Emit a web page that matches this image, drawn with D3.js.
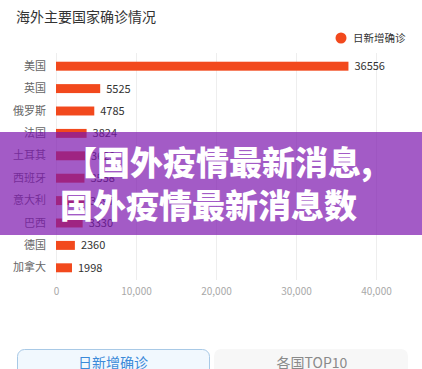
<!DOCTYPE html>
<html>
<head>
<meta charset="utf-8">
<script src="https://cdn.jsdelivr.net/npm/d3@7"></script>
<style>
  body { margin: 0; background: #fff; }
  svg { display: block; font-family: "Noto Sans CJK SC", "Noto Sans", sans-serif; }
</style>
</head>
<body>
<script>
// chart data
const countries = ["美国", "英国", "俄罗斯", "法国", "土耳其", "西班牙", "意大利", "巴西", "德国", "加拿大"];
const newCases = [36556, 5525, 4785, 3824, 3629, 3558, 3497, 3330, 2360, 1998];
const xTicks = [0, 10000, 20000, 30000, 40000];
const seriesName = "日新增确诊";
const chartTitle = "海外主要国家确诊情况";
const bannerLines = ["【国外疫情最新消息,", "国外疫情最新消息数"];
const tabs = ["日新增确诊", "各国TOP10"];

const width = 422, height = 369;
const margin = { top: 55, right: 46, bottom: 91, left: 56 };
const barColor = "#f2491d";

const svg = d3.select("body").append("svg")
    .attr("width", width)
    .attr("height", height);

// title
svg.append("text")
    .attr("x", 16).attr("y", 22)
    .attr("font-size", 14)
    .attr("fill", "#333")
    .text(chartTitle);

// legend
svg.append("circle")
    .attr("cx", 341).attr("cy", 38).attr("r", 5.5)
    .attr("fill", barColor);
svg.append("text")
    .attr("x", 353).attr("y", 42)
    .attr("font-size", 10.5)
    .attr("fill", "#333")
    .text(seriesName);

const x = d3.scaleLinear()
    .domain([0, 40000])
    .range([margin.left, 376]);

const y = d3.scaleBand()
    .domain(countries)
    .range([margin.top, height - margin.bottom + 1])
    .paddingInner(0.6)
    .paddingOuter(0.3);

// grid lines
svg.append("g")
    .selectAll("line")
    .data(xTicks)
    .enter().append("line")
    .attr("x1", d => x(d) + 0.5)
    .attr("x2", d => x(d) + 0.5)
    .attr("y1", margin.top - 2)
    .attr("y2", height - margin.bottom + 2)
    .attr("stroke", "#eeeeee");

// x axis labels
const xAxis = svg.append("g")
    .attr("transform", "translate(0," + (height - margin.bottom) + ")")
    .call(d3.axisBottom(x).tickValues(xTicks).tickSize(0).tickPadding(10).tickFormat(d3.format(",")));
xAxis.select(".domain").remove();
xAxis.selectAll("text")
    .attr("font-family", "'Noto Sans CJK SC', sans-serif")
    .attr("font-size", 10)
    .attr("fill", "#a8a8a8");

// y axis labels
const yAxis = svg.append("g")
    .attr("transform", "translate(" + (margin.left - 10) + ",0)")
    .call(d3.axisLeft(y).tickSize(0).tickPadding(0));
yAxis.select(".domain").remove();
yAxis.selectAll("text")
    .attr("font-family", "'Noto Sans CJK SC', sans-serif")
    .attr("font-size", 11)
    .attr("fill", "#666");

// bars
svg.append("g")
    .selectAll("rect")
    .data(countries)
    .enter().append("rect")
    .attr("x", x(0))
    .attr("y", d => y(d))
    .attr("width", (d, i) => x(newCases[i]) - x(0))
    .attr("height", y.bandwidth())
    .attr("fill", barColor);

// value labels
svg.append("g")
    .selectAll("text")
    .data(countries)
    .enter().append("text")
    .attr("x", (d, i) => x(newCases[i]) + 6)
    .attr("y", d => y(d) + y.bandwidth() / 2)
    .attr("dy", "0.36em")
    .attr("font-size", 11)
    .attr("fill", "#333")
    .text((d, i) => newCases[i]);

// purple banner overlay
svg.append("rect")
    .attr("x", 0).attr("y", 132)
    .attr("width", width).attr("height", 103)
    .attr("fill", "rgb(124, 22, 174)")
    .attr("fill-opacity", 0.7);

svg.append("g")
    .selectAll("text")
    .data(bannerLines)
    .enter().append("text")
    .attr("x", (d, i) => i === 0 ? 64 : 60)
    .attr("y", (d, i) => 175 + i * 43)
    .attr("font-size", 33)
    .attr("font-weight", 900)
    .attr("fill", "#fff")
    .text(d => d);

// tabs at the bottom
const tabG = svg.append("g")
    .selectAll("g")
    .data(tabs)
    .enter().append("g");
tabG.append("rect")
    .attr("x", (d, i) => i === 0 ? 17.5 : 214)
    .attr("y", (d, i) => i === 0 ? 349.5 : 349)
    .attr("width", (d, i) => i === 0 ? 192 : 194)
    .attr("height", 40)
    .attr("rx", 7)
    .attr("fill", (d, i) => i === 0 ? "#f1f8fe" : "#f7f7f7")
    .attr("stroke", (d, i) => i === 0 ? "#a8c9e6" : "none");
tabG.append("text")
    .attr("x", (d, i) => i === 0 ? 113 : 312)
    .attr("y", 368)
    .attr("text-anchor", "middle")
    .attr("font-size", 14)
    .attr("fill", (d, i) => i === 0 ? "#3b8ad9" : "#8a8a8a")
    .text(d => d);
</script>
</body>
</html>
